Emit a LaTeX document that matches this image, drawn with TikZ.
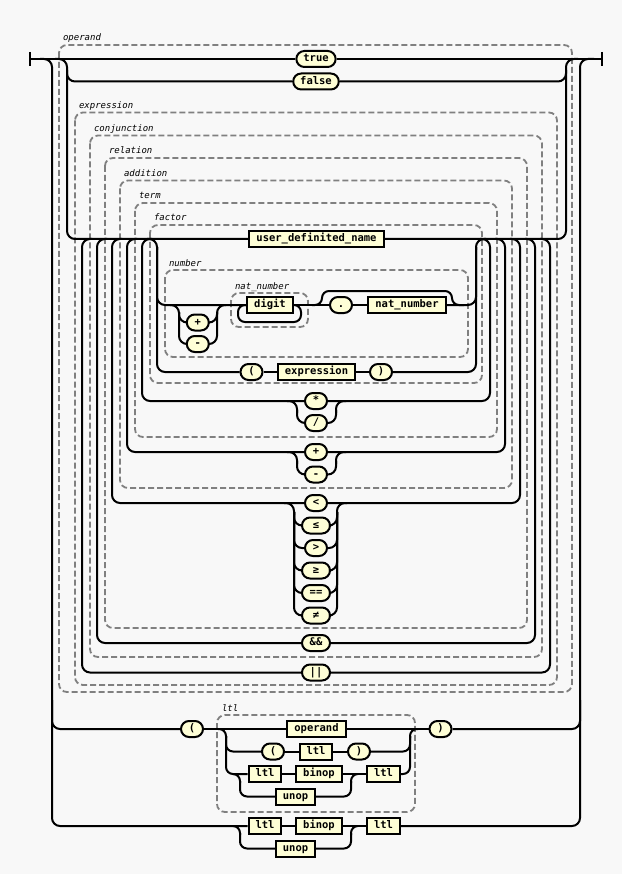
\documentclass[tikz,border=0pt]{standalone}
\usepackage{fontspec}
\setmonofont{DejaVu Sans Mono}
\definecolor{railbg}{RGB}{248,248,248}
\definecolor{railfill}{RGB}{254,254,214}
\definecolor{railgray}{RGB}{128,128,128}

\begin{document}
\begin{tikzpicture}[x=1pt, y=-1pt, line width=2pt,
    box/.style={draw, fill=railfill, font=\ttfamily\bfseries\fontsize{10.5}{12}\selectfont,
                text height=7.5pt, text depth=2pt, inner ysep=0pt, inner xsep=7pt,
                minimum height=16pt},
    tm/.style={box, rounded corners=8pt, minimum width=22pt},
    wtm/.style={tm, minimum width=28pt},
    nt/.style={box},
    grp/.style={draw=railgray, line width=1.8pt, dash pattern=on 6pt off 3pt,
                rounded corners=8pt},
    lbl/.style={anchor=base west, inner sep=0pt,
                font=\ttfamily\itshape\fontsize{9}{10}\selectfont},
    rail/.style={rounded corners=8pt},
    tight/.style={rounded corners=7pt}
]
    \fill[railbg] (0,0) rectangle (622,874);
    \useasboundingbox (0,0) rectangle (622,874);

    % Dashed groups, outermost first
    \draw[grp] (59,45) rectangle (572,692);
    \draw[grp] (75,112.5) rectangle (557,685);
    \draw[grp] (90,135.5) rectangle (542,657);
    \draw[grp] (105,158) rectangle (527,628);
    \draw[grp] (120,180.5) rectangle (512,488);
    \draw[grp] (135,203) rectangle (497,437);
    \draw[grp] (150,225) rectangle (482,383);
    \draw[grp] (165,270) rectangle (468,357);
    \draw[grp] (231,293) rectangle (308,327);
    \draw[grp] (217,715) rectangle (415,812);

    \node[lbl] (goperand) at (62,41) {operand};
    \node[lbl] (gexpr) at (78,108.5) {expression};
    \node[lbl] (gconj) at (93,131.5) {conjunction};
    \node[lbl] (grel) at (108,154) {relation};
    \node[lbl] (gadd) at (123,176.5) {addition};
    \node[lbl] (gterm) at (138,199) {term};
    \node[lbl] (gfactor) at (153,221) {factor};
    \node[lbl] (gnumber) at (168,266) {number};
    \node[lbl] (gnat) at (234,289) {nat\_number};
    \node[lbl] (gltl) at (221,711) {ltl};

    % Operand choice (x=316)
    \node[tm] (ntrue) at (316,59) {true};
    \node[tm] (nfalse) at (316,81.5) {false};
    \node[nt] (name) at (316.5,239) {user\_definited\_name};

    % number row
    \node[tm] (sgnp) at (197.8,322.5) {+};
    \node[tm] (sgnm) at (197.8,344) {-};
    \node[nt] (digit) at (270,305) {digit};
    \node[tm] (dot) at (341,305) {.};
    \node[nt] (natn) at (407,305) {nat\_number};

    % ( expression ) row
    \node[tm] (lpa) at (251.5,372) {(};
    \node[nt] (expr) at (316.5,372) {expression};
    \node[tm] (rpa) at (381,372) {)};

    % Loop separators
    \node[tm] (mul) at (316,401) {*};
    \node[tm] (div) at (316,423) {/};
    \node[tm] (add) at (316,452) {+};
    \node[tm] (sub) at (316,474.5) {-};
    \node[tm] (lt) at (316,503) {<};
    \node[wtm] (le) at (316,525.5) {≤};
    \node[tm] (gt) at (316,548) {>};
    \node[wtm] (ge) at (316,570.5) {≥};
    \node[wtm] (eq) at (316,593) {==};
    \node[wtm] (ne) at (316,615.5) {≠};
    \node[wtm] (and) at (316,643) {\&\&};
    \node[wtm] (or) at (316,672.5) {||};

    % ( ltl ) and binop rows
    \node[tm] (lpb) at (192,729) {(};
    \node[nt] (opd) at (316.5,729) {operand};
    \node[tm] (rpb) at (440.5,729) {)};
    \node[tm] (lpc) at (273,751.5) {(};
    \node[nt] (ltlc) at (316,751.5) {ltl};
    \node[tm] (rpc) at (359,751.5) {)};
    \node[nt] (ltla) at (265,774) {ltl};
    \node[nt] (bina) at (319,774) {binop};
    \node[nt] (ltlb) at (383.5,774) {ltl};
    \node[nt] (unoa) at (295.5,796.5) {unop};
    \node[nt] (ltld) at (265,826) {ltl};
    \node[nt] (bind) at (319,826) {binop};
    \node[nt] (ltle) at (383.5,826) {ltl};
    \node[nt] (unod) at (295.5,848.5) {unop};

    % Start and end
    \draw (30,52) -- (30,66);
    \draw (602,52) -- (602,66);
    \draw (30,59) -- (ntrue.west);
    \draw (ntrue.east) -- (602,59);

    % Outer choice (x=52 / x=580)
    \draw[rail] (40,59) -| (52,826) -- (ltld.west);
    \draw[rail] (52,700) |- (lpb.west);
    \draw[rail] (ltle.east) -| (580,59) -- (594,59);
    \draw[rail] (rpb.east) -| (580,700);

    % Operand choice (x=67 / x=566)
    \draw[rail] (55,59) -| (67,239) -- (name.west);
    \draw[rail] (67,70) |- (nfalse.west);
    \draw[rail] (nfalse.east) -| (566,70);
    \draw[rail] (name.east) -| (566,59) -- (578,59);

    % Loops back under the main row
    \draw[rail] (or.west) -| (82,239) -- (92,239);
    \draw[rail] (or.east) -| (550,239) -- (540,239);
    \draw[rail] (and.west) -| (97,239) -- (107,239);
    \draw[rail] (and.east) -| (535,239) -- (525,239);
    \draw[rail] (lt.west) -| (112,239) -- (122,239);
    \draw[rail] (lt.east) -| (520,239) -- (510,239);
    \draw[rail] (add.west) -| (127,239) -- (137,239);
    \draw[rail] (add.east) -| (505,239) -- (495,239);
    \draw[rail] (mul.west) -| (142,239) -- (152,239);
    \draw[rail] (mul.east) -| (490,239) -- (480,239);

    % * /
    \draw[rail] (287,401) -| (297,413);
    \draw[rail] (297,410) |- (div.west);
    \draw[rail] (div.east) -| (336,410);
    \draw[rail] (336,413) |- (346,401);
    % + -
    \draw[rail] (287,452) -| (297,464);
    \draw[rail] (297,461) |- (sub.west);
    \draw[rail] (sub.east) -| (336,461);
    \draw[rail] (336,464) |- (346,452);
    % relations
    \draw[rail] (284,503) -| (294,515);
    \draw[rail] (337,515) |- (347,503);
    \foreach \op in {le,gt,ge,eq,ne} {
        \draw[rail] (294,512) |- (\op.west);
        \draw[rail] (\op.east) -| (337,512);
    }

    % Factor choice (x=157 / x=476)
    \draw[rail] (147,239) -| (157,250);
    \draw[rail] (157,247) |- (digit.west);
    \draw[rail] (157,247) |- (lpa.west);
    \draw[rail] (natn.east) -| (476,247);
    \draw[rail] (rpa.east) -| (476,247);
    \draw[rail] (476,250) |- (486,239);
    \draw (lpa.east) -- (expr.west);
    \draw (expr.east) -- (rpa.west);

    % optional sign
    \draw[rail] (170,305) -| (179,314);
    \draw[rail] (179,312) |- (sgnp.west);
    \draw[rail] (179,312) |- (sgnm.west);
    \draw[rail] (sgnp.east) -| (217,312);
    \draw[rail] (sgnm.east) -| (217,312);
    \draw[rail] (217,314) |- (226,305);

    % digit loop, optional fraction
    \draw[tight] (digit.east) -| (301,322) -| (238,305) -- (digit.west);
    \draw (digit.east) -- (dot.west);
    \draw (dot.east) -- (natn.west);
    \draw[tight] (312,305) -| (322,291) -- (452,291) |- (464,305);

    % ltl group
    \draw (lpb.east) -- (opd.west);
    \draw (opd.east) -- (rpb.west);
    \draw[tight] (218,729) -| (226,738);
    \draw[tight] (226,736) |- (lpc.west);
    \draw[tight] (226,736) |- (ltla.west);
    \draw[tight] (rpc.east) -| (410,736);
    \draw[tight] (ltlb.east) -| (410,736);
    \draw[tight] (410,738) |- (418,729);
    \draw (lpc.east) -- (ltlc.west);
    \draw (ltlc.east) -- (rpc.west);
    \draw (ltla.east) -- (bina.west);
    \draw (bina.east) -- (ltlb.west);
    \draw[tight] (233,774) -| (240,783);
    \draw[tight] (240,781) |- (unoa.west);
    \draw[tight] (unoa.east) -| (351,781);
    \draw[tight] (351,783) |- (358,774);

    % bottom row
    \draw (ltld.east) -- (bind.west);
    \draw (bind.east) -- (ltle.west);
    \draw[tight] (233,826) -| (240,835);
    \draw[tight] (240,833) |- (unod.west);
    \draw[tight] (unod.east) -| (351,833);
    \draw[tight] (351,835) |- (358,826);
\end{tikzpicture}
\end{document}
